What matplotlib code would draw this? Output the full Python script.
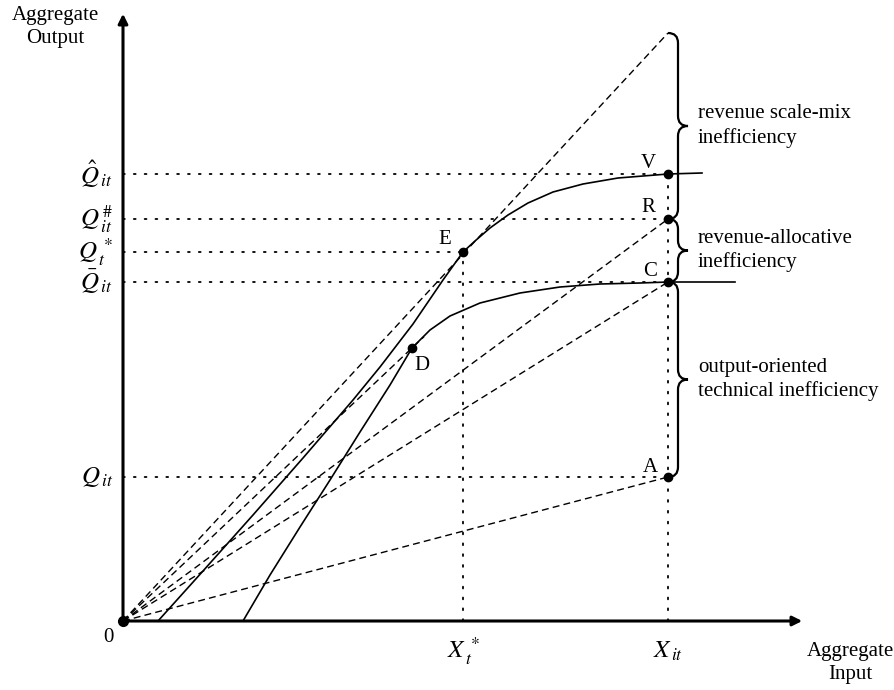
import matplotlib
matplotlib.use("Agg")
import matplotlib.pyplot as plt
from matplotlib.path import Path
from matplotlib.patches import PathPatch

plt.rcParams['font.family'] = 'Liberation Serif'
plt.rcParams['mathtext.fontset'] = 'stix'

# input levels and output levels (origin at 0)
x_star, x_it = 340, 545
q_it, q_bar, q_star, q_hash, q_hat = 144, 339, 369, 402, 447
q_top = 588  # end of the ray through E at x_it

# points on the chart
pts = {'A': (x_it, q_it), 'C': (x_it, q_bar), 'R': (x_it, q_hash),
       'V': (x_it, q_hat), 'E': (x_star, q_star), 'D': (289, 273)}

# production frontiers
upper_x = [35, 80, 130, 180, 230, 257, 290, 320, 340, 352, 367, 385, 405, 430, 460, 495, 545, 579]
upper_y = [0, 50, 106, 163, 221, 254, 297, 341, 369, 380, 393, 406, 418, 429, 437, 443, 447, 448]
lower_x = [120, 147, 177, 207, 237, 267, 289, 307, 327, 357, 397, 437, 477, 517, 545, 612]
lower_y = [0, 46, 94, 141, 189, 236, 273, 291, 305, 318, 328, 334, 337, 338, 339, 339]

y_ticks = [q_hat, q_hash, q_star, q_bar, q_it]
y_ticklabels = [r'$\hat{Q}_{\,it}$', r'$Q_{\,it}^{\,\#}$', r'$Q_{\,t}^{\,*}$', r'$\bar{Q}_{\,it}$', r'$Q_{\,it}$']

fig = plt.figure(figsize=(8.94, 6.90), dpi=100)
ax = fig.add_axes([0, 0, 1, 1])
ax.set_xlim(-123, 771)
ax.set_ylim(-69, 621)
ax.axis('off')

fs = 15
k = 'black'

# axes with arrows
ax.annotate('', xy=(682, 0), xytext=(0, 0),
            arrowprops=dict(arrowstyle='-|>', color=k, lw=2.2, mutation_scale=14))
ax.annotate('', xy=(0, 610), xytext=(0, 0),
            arrowprops=dict(arrowstyle='-|>', color=k, lw=2.2, mutation_scale=14))

dot = dict(color=k, lw=1.3, ls=(0, (1, 5)), dash_capstyle='round')
dash = dict(color=k, lw=1.0, ls=(0, (5, 3)))

# dotted guides
for q in [q_hat, q_hash, q_bar, q_it]:
    ax.plot([0, x_it], [q, q], **dot)
ax.plot([0, x_star], [q_star, q_star], **dot)
ax.plot([x_it, x_it], [0, q_hat], **dot)
ax.plot([x_star, x_star], [0, q_star], **dot)

# rays from origin
ax.plot([0, x_it], [0, q_top], **dash)
dx_end = pts['D'][0] + 12
ax.plot([0, dx_end], [0, pts['D'][1] * dx_end / pts['D'][0]], **dash)
ax.plot([0, x_it], [0, q_hash], **dash)
ax.plot([0, x_it], [0, q_bar], **dash)
ax.plot([0, x_it], [0, q_it], **dash)

# frontiers
ax.plot(upper_x, upper_y, color=k, lw=1.2)
ax.plot(lower_x, lower_y, color=k, lw=1.2)

# points
for name, (px, py) in pts.items():
    ax.plot(px, py, 'o', color=k, ms=6)
ax.plot(0, 0, 'o', color=k, ms=7)

lab_off = {'A': (-18, 10), 'C': (-18, 10), 'R': (-20, 11), 'V': (-20, 11),
           'E': (-18, 12), 'D': (10, -18)}
for name, (dx, dy) in lab_off.items():
    px, py = pts[name]
    ax.text(px + dx, py + dy, name, fontsize=fs, ha='center', va='center')


def brace(x0, yt, yb, width=10, tip=10, r=10):
    ym = (yt + yb) / 2
    xl = x0 - width
    verts = [(xl, yt), (x0, yt), (x0, yt - r),
             (x0, ym + r),
             (x0, ym), (x0 + tip, ym),
             (x0, ym), (x0, ym - r),
             (x0, yb + r),
             (x0, yb), (xl, yb)]
    codes = [Path.MOVETO, Path.CURVE3, Path.CURVE3,
             Path.LINETO,
             Path.CURVE3, Path.CURVE3,
             Path.CURVE3, Path.CURVE3,
             Path.LINETO,
             Path.CURVE3, Path.CURVE3]
    ax.add_patch(PathPatch(Path(verts, codes), fill=False, lw=1.6, color=k))
    return ym


bx = x_it + 10
m1 = brace(bx, q_top, q_hash)
m2 = brace(bx, q_hash, q_bar)
m3 = brace(bx, q_bar, q_it)
tx = bx + 20
ax.text(tx, m1, 'revenue scale-mix\ninefficiency', fontsize=fs, va='center', ha='left', linespacing=1.3)
ax.text(tx, m2, 'revenue-allocative\ninefficiency', fontsize=fs, va='center', ha='left', linespacing=1.3)
ax.text(tx, m3, 'output-oriented\ntechnical inefficiency', fontsize=fs, va='center', ha='left', linespacing=1.3)

# tick labels
for q, lab in zip(y_ticks, y_ticklabels):
    ax.text(-10, q, lab, fontsize=fs + 3, ha='right', va='center')
ax.text(x_star, -30, r'$X_{\,t}^{\,*}$', fontsize=fs + 3, ha='center', va='center')
ax.text(x_it, -30, r'$X_{\,it}$', fontsize=fs + 3, ha='center', va='center')
ax.text(-15, -17, '0', fontsize=fs, ha='center', va='center')

ax.text(-68, 594, 'Aggregate\nOutput', fontsize=fs, ha='center', va='center', linespacing=1.3)
ax.text(727, -42, 'Aggregate\nInput', fontsize=fs, ha='center', va='center', linespacing=1.3)

fig.savefig('out.png', dpi=100)
